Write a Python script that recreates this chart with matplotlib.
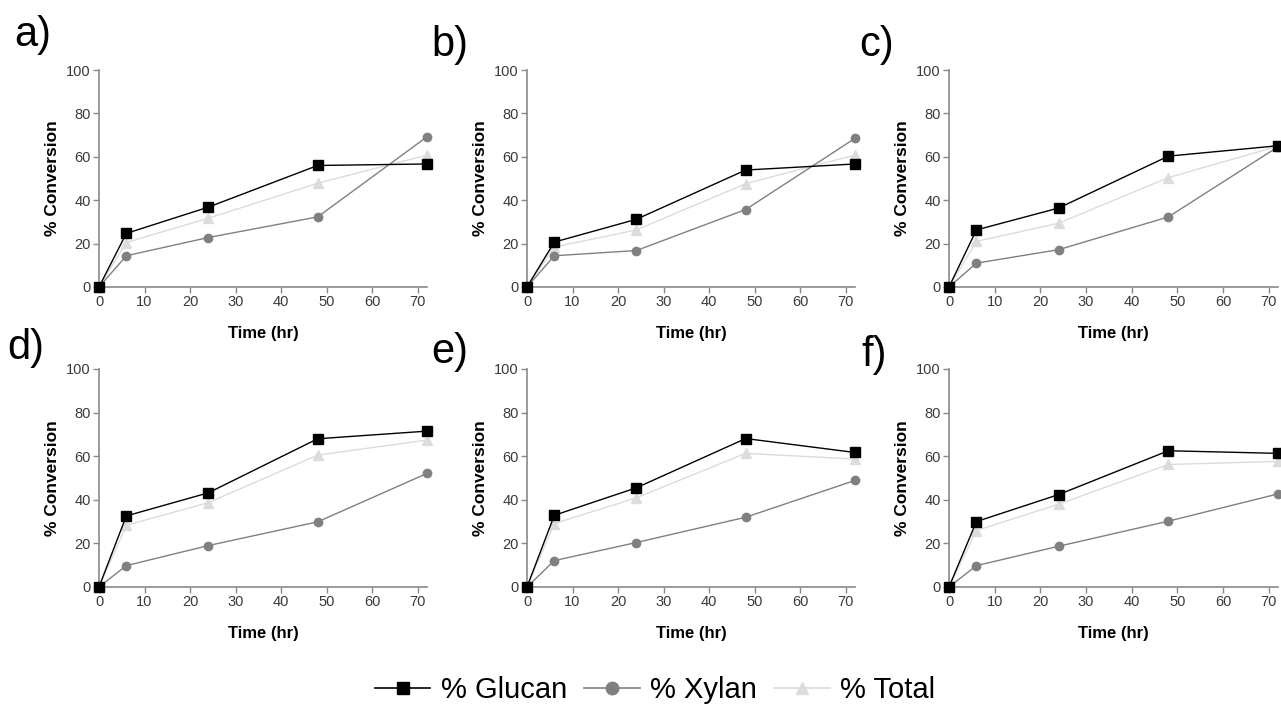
import matplotlib
matplotlib.use("Agg")
import matplotlib.pyplot as plt
from matplotlib.lines import Line2D

plt.rcParams['font.family'] = ['Liberation Sans', 'DejaVu Sans']

time_hr = [0, 6, 24, 48, 72]
panel_labels = ['a)', 'b)', 'c)', 'd)', 'e)', 'f)']

glucan = {
    'a)': [0, 24.7, 36.8, 56.0, 56.7],
    'b)': [0, 20.7, 31.2, 53.9, 56.7],
    'c)': [0, 26.3, 36.4, 60.3, 65.1],
    'd)': [0, 32.6, 43.2, 68.0, 71.5],
    'e)': [0, 32.9, 45.5, 68.1, 61.7],
    'f)': [0, 30.0, 42.4, 62.5, 61.3],
}
xylan = {
    'a)': [0, 14.4, 22.8, 32.3, 69.2],
    'b)': [0, 14.4, 16.8, 35.7, 68.5],
    'c)': [0, 11.0, 17.2, 32.3, 64.6],
    'd)': [0, 9.8, 19.0, 29.9, 52.1],
    'e)': [0, 12.1, 20.4, 32.0, 48.9],
    'f)': [0, 9.8, 18.7, 30.2, 42.7],
}
total = {
    'a)': [0, 20.5, 31.7, 47.8, 60.8],
    'b)': [0, 18.4, 26.3, 47.6, 60.8],
    'c)': [0, 21.0, 29.4, 50.4, 64.9],
    'd)': [0, 28.3, 38.7, 60.5, 67.4],
    'e)': [0, 29.1, 40.9, 61.3, 58.7],
    'f)': [0, 25.9, 38.0, 56.2, 57.6],
}
x_ticks = [0, 10, 20, 30, 40, 50, 60, 70]
y_ticks = [0, 20, 40, 60, 80, 100]
series_names = ['% Glucan', '% Xylan', '% Total']

W, H = 1281, 706
fig = plt.figure(figsize=(W / 100, H / 100), dpi=100)

lefts = [99, 527, 949]
widths = [328, 328, 329]
tops = [70, 369]
bottoms = [287, 587]
label_pos = [(14, 35), (431, 45), (859, 45), (7, 348), (431, 352), (861, 355)]

C_GLU = '#000000'
C_XYL = '#808080'
C_TOT = '#dcdcdc'
C_AX = '#8a8a8a'

for i, lab in enumerate(panel_labels):
    r, c = divmod(i, 3)
    l = lefts[c] / W
    b = 1 - bottoms[r] / H
    h = (bottoms[r] - tops[r]) / H
    w = widths[c] / W
    ax = fig.add_axes([l, b, w, h])
    ax.plot(time_hr, total[lab], color=C_TOT, marker='^', markersize=7,
            linewidth=1.0, zorder=2, clip_on=False)
    ax.plot(time_hr, xylan[lab], color=C_XYL, marker='o', markersize=6,
            linewidth=1.0, zorder=3, clip_on=False)
    ax.plot(time_hr, glucan[lab], color=C_GLU, marker='s', markersize=6.5,
            linewidth=1.0, zorder=4, clip_on=False)
    ax.set_xlim(0, 72)
    ax.set_ylim(0, 100)
    ax.set_xticks(x_ticks)
    ax.set_yticks(y_ticks)
    for s in ['top', 'right']:
        ax.spines[s].set_visible(False)
    for s in ['left', 'bottom']:
        ax.spines[s].set_color(C_AX)
        ax.spines[s].set_linewidth(1.2)
    ax.tick_params(direction='out', length=4, width=1, color=C_AX,
                   labelsize=10.5, labelcolor='#3a3a3a', pad=2)
    ax.set_xlabel('Time (hr)', fontsize=12, fontweight='bold', labelpad=12)
    ax.set_ylabel('% Conversion', fontsize=12.5, fontweight='bold', labelpad=4)
    fig.text(label_pos[i][0] / W, 1 - label_pos[i][1] / H, lab, fontsize=30,
             ha='left', va='center')

handles = [
    Line2D([], [], color=C_GLU, marker='s', markersize=9, linewidth=1.2),
    Line2D([], [], color=C_XYL, marker='o', markersize=9, linewidth=1.2),
    Line2D([], [], color=C_TOT, marker='^', markersize=9, linewidth=1.2),
]
fig.legend(handles, series_names, loc='center', bbox_to_anchor=(655 / W, 1 - 690 / H),
           ncol=3, frameon=False, fontsize=21, handlelength=1.9,
           handletextpad=0.35, columnspacing=0.6)

fig.savefig('out.png', dpi=100)
